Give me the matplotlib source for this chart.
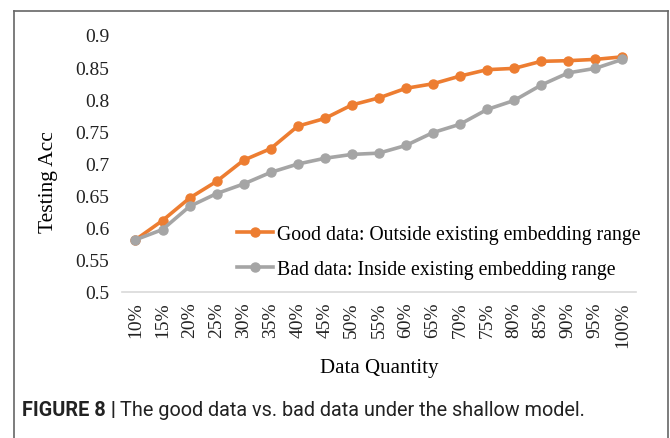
import numpy as np
import matplotlib
matplotlib.use("Agg")
import matplotlib.pyplot as plt

# data
labels = ["10%", "15%", "20%", "25%", "30%", "35%", "40%", "45%", "50%", "55%",
          "60%", "65%", "70%", "75%", "80%", "85%", "90%", "95%", "100%"]
good = [0.581, 0.611, 0.646, 0.672, 0.705, 0.723, 0.758, 0.770, 0.791, 0.802,
        0.817, 0.824, 0.836, 0.846, 0.848, 0.859, 0.860, 0.862, 0.866]
bad = [0.581, 0.597, 0.633, 0.653, 0.668, 0.686, 0.699, 0.708, 0.714, 0.716,
       0.728, 0.748, 0.761, 0.784, 0.798, 0.822, 0.841, 0.848, 0.862]
yticks = [0.5, 0.55, 0.6, 0.65, 0.7, 0.75, 0.8, 0.85, 0.9]
ytick_labels = ["0.5", "0.55", "0.6", "0.65", "0.7", "0.75", "0.8", "0.85", "0.9"]

serif = ["Liberation Serif", "DejaVu Serif"]

fig = plt.figure(figsize=(6.7, 4.39), dpi=100)
ax = fig.add_axes([0.182, 0.333, 0.767, 0.585])

x = np.arange(len(labels))
ax.plot(x, good, color="#ED7D31", lw=2.6, marker="o", ms=6.5,
        label="Good data: Outside existing embedding range")
ax.plot(x, bad, color="#A5A5A5", lw=2.6, marker="o", ms=6.5,
        label="Bad data: Inside existing embedding range")

ax.set_xlim(-0.5, len(labels) - 0.5)
ax.set_ylim(0.5, 0.9)
ax.set_yticks(yticks)
ax.set_yticklabels(ytick_labels, family=serif, fontsize=14, color="#222222")
ax.set_xticks(x)
ax.set_xticklabels(labels, rotation=90, family=serif, fontsize=14, color="#222222")
ax.tick_params(axis="x", length=0, pad=7)
ax.tick_params(axis="y", length=0, pad=9)

for s in ["top", "right", "left"]:
    ax.spines[s].set_visible(False)
ax.spines["bottom"].set_color("#d9d9d9")
ax.spines["bottom"].set_linewidth(1.2)

ax.set_ylabel("Testing Acc", family=serif, fontsize=15.5, labelpad=2)
ax.yaxis.set_label_coords(-0.124, 0.43)
ax.set_xlabel("Data Quantity", family=serif, fontsize=15, labelpad=8)

leg = ax.legend(loc="lower right", bbox_to_anchor=(1.043, -0.018), frameon=False,
                prop={"family": serif, "size": 14.2}, handlelength=1.8,
                handletextpad=0.2, labelspacing=0.78)

# frame around the figure (left, top, right)
W, H = 670, 439
fig.add_artist(plt.Line2D([14 / W, 14 / W], [0, 1 - 12 / H], color="#666666", lw=1.2))
fig.add_artist(plt.Line2D([14 / W, 668 / W], [1 - 12 / H, 1 - 12 / H], color="#666666", lw=1.2))
fig.add_artist(plt.Line2D([668 / W, 668 / W], [0, 1 - 12 / H], color="#666666", lw=1.2))

# caption
t1 = fig.text(22 / W, 1 - 411 / H, "FIGURE 8 |", fontsize=14.3, fontweight="bold",
              family="Roboto", va="center", color="#222222")
fig.canvas.draw()
bb = t1.get_window_extent()
fig.text((bb.x1 + 4) / W, 1 - 411 / H, "The good data vs. bad data under the shallow model.",
         fontsize=14.3, family="Roboto", va="center", color="#222222")

fig.savefig("out.png", dpi=100)
